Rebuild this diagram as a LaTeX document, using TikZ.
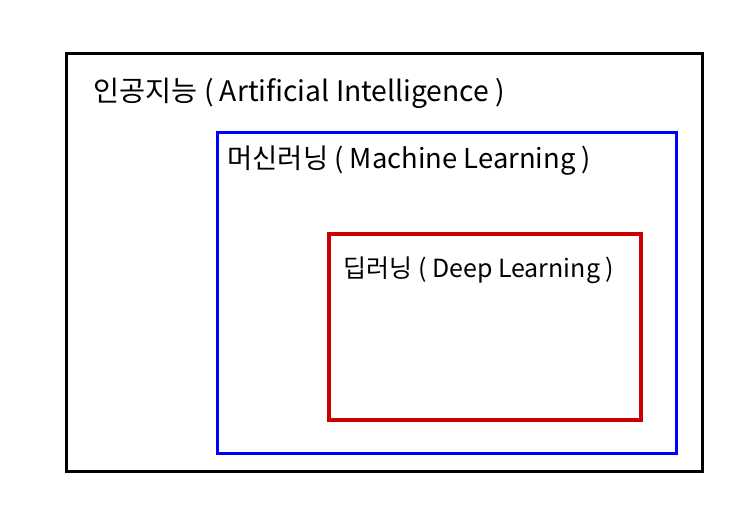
\documentclass[tikz,border=0pt]{standalone}
\usepackage{fontspec}
\newfontfamily\kofont{Noto Sans CJK KR}
\begin{document}
\begin{tikzpicture}[x=1pt,y=-1pt]
        \useasboundingbox (0,0) rectangle (750,504);
        % Draw the boxes
        \draw[black, line width=3pt] (66,53) rectangle (702,471);
        \draw[blue, line width=3pt] (217,132) rectangle (676,453);
        \draw[red!80!black, line width=4pt] (329,234) rectangle (641,420);
        % Box labels
        \node[anchor=west, font=\kofont\fontsize{28.3}{31}\selectfont] (ai) at (90,93) {인공지능 ( Artificial Intelligence )};
        \node[anchor=west, font=\kofont\fontsize{27.4}{30}\selectfont] (ml) at (224,161) {머신러닝 ( Machine Learning )};
        \node[anchor=west, font=\kofont\fontsize{25}{28}\selectfont] (dl) at (340,270) {딥러닝 ( Deep Learning )};
    \end{tikzpicture}
\end{document}
